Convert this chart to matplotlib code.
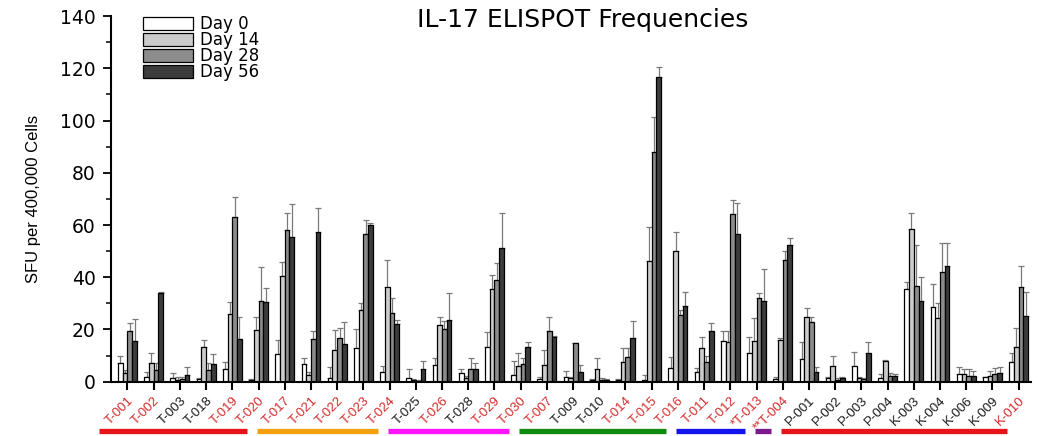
import numpy as np
import matplotlib
matplotlib.use("Agg")
import matplotlib.pyplot as plt
import matplotlib.transforms as mtransforms
from matplotlib.ticker import MultipleLocator

plt.rcParams['font.family'] = ['Liberation Sans', 'DejaVu Sans']

# ---- data ----
subjects = ['T-001', 'T-002', 'T-003', 'T-018', 'T-019', 'T-020', 'T-017', 'T-021', 'T-022',
            'T-023', 'T-024', 'T-025', 'T-026', 'T-028', 'T-029', 'T-030', 'T-007', 'T-009',
            'T-010', 'T-014', 'T-015', 'T-016', 'T-011', 'T-012', '*T-013', '**T-004',
            'P-001', 'P-002', 'P-003', 'P-004', 'K-003', 'K-004', 'K-006', 'K-009', 'K-010']
red_subjects = ['T-001', 'T-002', 'T-019', 'T-020', 'T-017', 'T-021', 'T-022', 'T-023', 'T-024',
                'T-026', 'T-029', 'T-030', 'T-007', 'T-014', 'T-015', 'T-016', 'T-011', 'T-012',
                '*T-013', '**T-004', 'K-010']
series_names = ['Day 0', 'Day 14', 'Day 28', 'Day 56']

day0 = [7.0, 1.7, 1.3, 0.9, 4.7, 0.6, 10.8, 6.8, 1.3, 12.8, 3.8, 1.5, 6.4, 3.2, 13.4, 2.6, 1.0, 1.7,
        0.6, 0.6, 0.6, 5.1, 3.8, 15.7, 10.9, 0.9, 8.7, 1.3, 6.1, 1.5, 35.4, 28.7, 2.8, 1.7, 7.7]
day14 = [3.4, 7.0, 0.6, 13.4, 25.9, 19.8, 40.6, 2.6, 12.1, 27.3, 36.4, 0.5, 21.7, 1.3, 35.6, 6.0, 6.4,
         1.3, 4.9, 7.4, 46.3, 50.0, 12.8, 15.2, 15.5, 16.0, 24.9, 6.1, 1.3, 8.0, 58.3, 24.5, 2.8, 2.3, 13.2]
day28 = [19.5, 4.5, 0.9, 4.5, 63.2, 30.9, 58.1, 16.2, 16.6, 56.4, 26.4, 0.3, 20.0, 4.7, 38.9, 6.8, 19.4,
         14.7, 0.5, 9.3, 88.1, 25.5, 7.5, 64.1, 31.9, 46.6, 22.7, 0.8, 0.9, 2.2, 36.8, 42.1, 2.2, 3.0, 36.4]
day56 = [15.7, 34.1, 2.6, 6.8, 16.3, 30.4, 55.5, 57.2, 14.3, 60.0, 22.2, 5.0, 23.7, 4.7, 51.3, 13.4, 17.0,
         3.8, 0.5, 16.8, 116.5, 29.1, 19.4, 56.4, 31.0, 52.3, 3.8, 1.3, 11.1, 2.2, 31.0, 44.4, 2.2, 3.3, 25.3]

day0_err = [3.0, 2.1, 1.9, 0.4, 2.7, 0.4, 5.2, 2.4, 4.4, 7.2, 2.3, 3.4, 2.6, 1.5, 5.7, 5.3, 0.9, 2.5,
            0.6, 0.4, 2.0, 4.2, 1.3, 3.7, 6.1, 1.0, 6.6, 0.6, 5.4, 1.5, 2.9, 8.6, 2.9, 0.2, 3.4]
day14_err = [1.1, 4.1, 1.1, 2.6, 4.7, 5.1, 5.1, 1.2, 7.7, 2.7, 10.2, 0.5, 2.9, 0.7, 5.2, 4.9, 5.7, 0.6,
             4.3, 5.4, 13.0, 7.3, 4.2, 4.2, 9.0, 0.6, 3.4, 3.7, 0.6, 0.3, 6.4, 5.5, 2.2, 1.9, 7.2]
day28_err = [3.1, 2.5, 1.0, 2.5, 7.6, 13.1, 6.6, 3.2, 3.8, 5.4, 5.8, 0.5, 3.4, 4.5, 6.4, 2.2, 5.5, 0.3,
             1.0, 3.5, 13.1, 2.0, 2.3, 5.5, 2.2, 3.4, 2.2, 0.7, 0.6, 1.0, 15.5, 10.9, 2.5, 2.1, 7.9]
day56_err = [8.2, 0.4, 3.1, 3.7, 8.3, 5.3, 12.5, 9.5, 8.7, 0.9, 1.4, 3.0, 10.3, 2.3, 13.2, 1.8, 0.6, 2.6,
             0.5, 6.3, 4.1, 5.4, 3.0, 11.9, 12.0, 2.6, 1.7, 0.6, 4.2, 0.8, 9.2, 8.6, 2.0, 2.4, 9.2]

# site groups shown as coloured bars under the labels: (first subject, last subject, colour)
groups = [('T-001', 'T-020', '#e8141b'),
          ('T-017', 'T-024', '#f5a010'),
          ('T-025', 'T-030', '#ff14ff'),
          ('T-007', 'T-016', '#118a11'),
          ('T-011', '*T-013', '#1414f0'),
          ('**T-004', '**T-004', '#7a1a8c'),
          ('P-001', 'K-010', '#e8141b')]

values = [day0, day14, day28, day56]
errors = [day0_err, day14_err, day28_err, day56_err]
fills = ['#ffffff', '#cccccc', '#8c8c8c', '#3c3c3c']

wide = ['DejaVu Sans']  # the reference text looks horizontally stretched

fig = plt.figure(figsize=(10.49, 4.36), dpi=100)
ax = fig.add_axes([0.1058, 0.1245, 0.877, 0.8385])

x = np.arange(len(subjects))
w = 0.18
for k, (vals, errs, fc, name) in enumerate(zip(values, errors, fills, series_names)):
    pos = x + (k - 1.5) * w
    ax.bar(pos, vals, width=w, color=fc, edgecolor='black', linewidth=0.9, label=name, zorder=2)
    ax.errorbar(pos, vals, yerr=[np.zeros(len(errs)), errs], fmt='none', ecolor='#7a7a7a',
                elinewidth=0.9, capsize=2.2, capthick=0.9, zorder=1)

ax.set_xlim(-0.63, 34.47)
ax.set_ylim(0, 140)
ax.yaxis.set_major_locator(MultipleLocator(20))
ax.yaxis.set_minor_locator(MultipleLocator(10))
ax.tick_params(axis='y', which='major', direction='out', length=6, width=1.3, labelsize=13.5, pad=5)
ax.tick_params(axis='y', which='minor', direction='out', length=3.5, width=1.1)
ax.tick_params(axis='x', which='major', direction='out', length=6, width=1.5, pad=3)
for lbl in ax.get_yticklabels():
    lbl.set_family(wide)

ax.set_xticks(x)
ax.set_xticklabels(subjects, rotation=45, ha='right', va='top', rotation_mode='anchor', fontsize=9.5)
for lbl in ax.get_xticklabels():
    lbl.set_color('#d42a2a' if lbl.get_text() in red_subjects else '#1a1a1a')

for side in ['top', 'right']:
    ax.spines[side].set_visible(False)
for side in ['left', 'bottom']:
    ax.spines[side].set_linewidth(1.5)

ax.set_ylabel('SFU per 400,000 Cells', fontsize=12, labelpad=14)

fig.text(0.555, 0.955, 'IL-17 ELISPOT Frequencies', fontsize=18, ha='center', va='center',
         family=wide)

ax.legend(loc='upper left', bbox_to_anchor=(0.028, 1.02), frameon=False,
          prop={'family': wide, 'size': 12},
          handlelength=3.0, handleheight=0.85, labelspacing=-0.12, handletextpad=0.4, borderaxespad=0)

# coloured group bars below the tick labels
trans = mtransforms.blended_transform_factory(ax.transData, ax.transAxes)
idx = {s: i for i, s in enumerate(subjects)}
for first, last, col in groups:
    ax.plot([idx[first] - 1.07, idx[last] - 0.45], [-0.135, -0.135], color=col, lw=3.8,
            solid_capstyle='butt', transform=trans, clip_on=False)

fig.savefig('out.png', dpi=100)
